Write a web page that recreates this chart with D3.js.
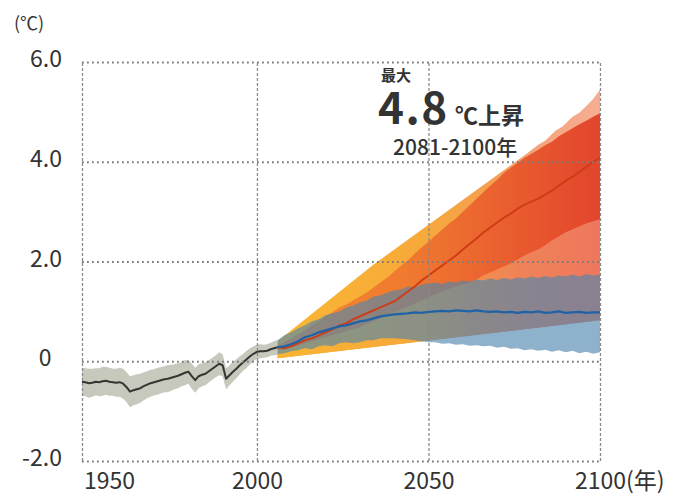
<!DOCTYPE html>
<html><head><meta charset="utf-8">
<script src="https://cdn.jsdelivr.net/npm/d3@7"></script>
<style>
html,body{margin:0;padding:0;background:#fff;}
svg{display:block;}
text{font-family:"Noto Sans CJK JP","Noto Sans",sans-serif;fill:#333;}
</style></head><body>
<svg id="chart" width="682" height="498"></svg>
<script>
// ---- observed record (annual) ----
const histYears = [1949,1950,1951,1952,1953,1954,1955,1956,1957,1958,1959,1960,1961,1962,1963,1964,1965,1966,1967,1968,1969,1970,1971,1972,1973,1974,1975,1976,1977,1978,1979,1980,1981,1982,1983,1984,1985,1986,1987,1988,1989,1990,1991,1992,1993,1994,1995,1996,1997,1998,1999,2000,2001,2002,2003,2004,2005,2006];
const histMean = [-0.41,-0.42,-0.44,-0.43,-0.41,-0.42,-0.40,-0.39,-0.41,-0.42,-0.43,-0.42,-0.45,-0.52,-0.61,-0.58,-0.56,-0.54,-0.50,-0.47,-0.44,-0.42,-0.40,-0.38,-0.36,-0.35,-0.33,-0.31,-0.29,-0.26,-0.23,-0.21,-0.30,-0.38,-0.30,-0.27,-0.25,-0.20,-0.15,-0.10,-0.05,-0.08,-0.35,-0.28,-0.21,-0.15,-0.08,-0.02,0.04,0.10,0.15,0.19,0.20,0.20,0.21,0.24,0.26,0.28];
const histSpread = [0.28,0.28,0.29,0.28,0.27,0.28,0.29,0.28,0.28,0.27,0.28,0.29,0.30,0.30,0.31,0.30,0.30,0.29,0.28,0.27,0.27,0.26,0.27,0.26,0.26,0.27,0.26,0.25,0.25,0.24,0.25,0.24,0.25,0.25,0.24,0.23,0.23,0.22,0.22,0.22,0.23,0.22,0.21,0.20,0.20,0.19,0.18,0.17,0.17,0.16,0.15,0.14,0.14,0.13,0.13,0.13,0.14,0.15];

// ---- projections (every 2 years) ----
const projYears = [2006,2008,2010,2012,2014,2016,2018,2020,2022,2024,2026,2028,2030,2032,2034,2036,2038,2040,2042,2044,2046,2048,2050,2052,2054,2056,2058,2060,2062,2064,2066,2068,2070,2072,2074,2076,2078,2080,2082,2084,2086,2088,2090,2092,2094,2096,2098,2100];

// high-emission scenario: mean and likely range
const highMean = [0.28,0.26,0.30,0.36,0.42,0.46,0.52,0.58,0.64,0.72,0.76,0.84,0.90,0.96,1.02,1.08,1.14,1.20,1.30,1.40,1.50,1.62,1.72,1.82,1.92,2.02,2.12,2.24,2.35,2.46,2.58,2.68,2.78,2.88,2.96,3.06,3.14,3.20,3.26,3.34,3.42,3.52,3.62,3.70,3.80,3.90,4.00,4.08];
const highTop = [0.32,0.38,0.46,0.54,0.62,0.72,0.80,0.90,0.98,1.08,1.14,1.22,1.30,1.38,1.48,1.58,1.68,1.80,1.92,2.02,2.16,2.28,2.40,2.52,2.64,2.76,2.86,3.00,3.13,3.26,3.39,3.52,3.64,3.78,3.88,3.98,4.08,4.16,4.24,4.33,4.40,4.51,4.59,4.67,4.75,4.82,4.90,4.97];
const highBottom = [0.22,0.24,0.28,0.32,0.36,0.40,0.44,0.48,0.52,0.56,0.60,0.64,0.68,0.74,0.80,0.86,0.92,0.98,1.04,1.10,1.16,1.22,1.28,1.34,1.40,1.45,1.50,1.54,1.58,1.64,1.72,1.78,1.84,1.90,1.96,2.04,2.12,2.18,2.24,2.32,2.42,2.50,2.58,2.64,2.70,2.76,2.80,2.84];

// full spread across scenarios (outer envelope)
const envTopYears = [2006,2034,2079,2082,2084,2087,2089,2092,2094,2096,2098,2100];
const envTop = [0.40,1.94,4.18,4.34,4.42,4.62,4.70,4.90,4.98,5.12,5.26,5.45];
const envBottomYears = [2006,2100];
const envBottom = [0.06,0.82];

// low-emission scenario: mean and likely range
const lowMean = [0.28,0.30,0.34,0.40,0.48,0.52,0.58,0.62,0.66,0.70,0.72,0.76,0.80,0.82,0.86,0.90,0.92,0.94,0.95,0.96,0.98,0.97,0.99,1.00,1.01,1.00,1.02,1.01,1.00,1.02,1.00,0.99,1.00,0.98,0.99,0.97,0.99,0.98,1.00,0.97,0.98,1.00,0.97,0.98,0.99,0.97,0.98,0.98];
const lowTop = [0.42,0.52,0.58,0.66,0.72,0.80,0.84,0.92,0.96,1.00,1.08,1.12,1.18,1.22,1.30,1.32,1.38,1.42,1.44,1.50,1.48,1.54,1.56,1.58,1.55,1.60,1.58,1.62,1.60,1.64,1.62,1.66,1.63,1.67,1.64,1.68,1.66,1.70,1.67,1.71,1.68,1.72,1.70,1.74,1.70,1.75,1.72,1.74];
const lowBottom = [0.14,0.16,0.20,0.22,0.26,0.24,0.30,0.32,0.30,0.36,0.38,0.36,0.38,0.42,0.42,0.46,0.46,0.46,0.45,0.44,0.42,0.40,0.38,0.38,0.35,0.36,0.33,0.34,0.31,0.32,0.30,0.31,0.27,0.29,0.25,0.26,0.22,0.24,0.21,0.23,0.19,0.22,0.18,0.21,0.16,0.19,0.15,0.18];

// axis ticks
const yTicks = [-2, 0, 2, 4, 6];
const xLabelTicks = [1950, 2000, 2050, 2100];
const xGridTicks = [2000, 2050, 2100];

const svg = d3.select("#chart");
const x = d3.scaleLinear().domain([1949, 2100]).range([82, 600]);
const y = d3.scaleLinear().domain([-2, 6]).range([461, 62]);

const defs = svg.append("defs");
function grad(id, stops) {
  const g = defs.append("linearGradient").attr("id", id)
    .attr("gradientUnits", "userSpaceOnUse")
    .attr("x1", x(2006)).attr("x2", x(2100)).attr("y1", 0).attr("y2", 0);
  stops.forEach(([o, c]) => g.append("stop").attr("offset", o).attr("stop-color", c));
}
grad("gEnvTop", [[0, "#f9b733"], [0.45, "#f7a93a"], [0.65, "#f4a050"], [0.8, "#f3a47c"], [1, "#f6ae93"]]);
grad("gEnvLow", [[0, "#f9b533"], [0.45, "#f6a63a"], [0.6, "#f2904a"], [0.75, "#ef8358"], [1, "#ee775d"]]);
grad("gHigh", [[0, "#f28a30"], [0.4, "#f07a2f"], [0.7, "#ea5f2f"], [1, "#e2452c"]]);

const pts = (yrs, vals) => yrs.map((yr, i) => [x(yr), y(vals[i])]);
const polygon = (top, bottom) => d3.line()(top.concat(bottom.slice().reverse())) + "Z";

// observed band
svg.append("path")
  .attr("d", d3.area().x((d, i) => x(histYears[i])).y0((d, i) => y(histMean[i] - histSpread[i])).y1((d, i) => y(histMean[i] + histSpread[i]))(histYears))
  .attr("fill", "#c6c9bc");

// outer envelope
svg.append("path")
  .attr("d", polygon(pts(envTopYears, envTop), pts(envBottomYears, envBottom)))
  .attr("fill", "url(#gEnvTop)");
svg.append("path")
  .attr("d", polygon(pts(projYears, highBottom), pts(envBottomYears, envBottom)))
  .attr("fill", "url(#gEnvLow)");

// high scenario range
const bandArea = (lo, hi) => d3.area().x((d, i) => x(projYears[i])).y0((d, i) => y(lo[i])).y1((d, i) => y(hi[i]))(projYears);
svg.append("path").attr("d", bandArea(highBottom, highTop)).attr("fill", "url(#gHigh)");

// low scenario range (translucent, so the warmer bands tint it grey)
svg.append("path").attr("d", bandArea(lowBottom, lowTop))
  .attr("fill", "rgb(77,133,174)").attr("fill-opacity", 0.63);

// mean lines
const meanLine = (yrs, vals) => d3.line().x((d, i) => x(yrs[i])).y((d, i) => y(vals[i]))(yrs);
svg.append("path").attr("d", meanLine(histYears, histMean))
  .attr("fill", "none").attr("stroke", "#363532").attr("stroke-width", 2).attr("stroke-linejoin", "round");
svg.append("path").attr("d", meanLine(projYears, highMean))
  .attr("fill", "none").attr("stroke", "#cf3b17").attr("stroke-width", 1.9).attr("stroke-linejoin", "round");
svg.append("path").attr("d", meanLine(projYears, lowMean))
  .attr("fill", "none").attr("stroke", "#1f62a6").attr("stroke-width", 2.2).attr("stroke-linejoin", "round");

// grid: dotted horizontals, dashed verticals
const hGrid = svg.append("g").attr("transform", `translate(${x(1949)},0)`)
  .call(d3.axisLeft(y).tickValues(yTicks).tickSize(-(x(2100) - x(1949))).tickFormat(""));
hGrid.select(".domain").remove();
hGrid.selectAll("line").attr("stroke", "#7d7d7d").attr("stroke-width", 1.8).attr("stroke-dasharray", "1.8,3.2");

const vGrid = svg.append("g").attr("transform", `translate(0,${y(-2)})`)
  .call(d3.axisBottom(x).tickValues([1949].concat(xGridTicks)).tickSize(-(y(-2) - y(6))).tickFormat(""));
vGrid.select(".domain").remove();
vGrid.selectAll("line").attr("stroke", "#8a8a8a").attr("stroke-width", 1.3).attr("stroke-dasharray", "3,2");

// y labels
const yAxis = svg.append("g").attr("transform", "translate(62,0)")
  .call(d3.axisLeft(y).tickValues(yTicks).tickSize(0).tickPadding(0)
    .tickFormat(v => v === 0 ? "0" : v.toFixed(1)));
yAxis.select(".domain").remove();
yAxis.selectAll("text")
  .attr("font-size", 23).attr("fill", "#3a3a3a")
  .attr("dy", "0.2em")
  .attr("font-family", null)
  .each(function (v) {
    if (v === 0) d3.select(this).attr("text-anchor", "middle").attr("x", -17);
  });

// x labels
const xAxis = svg.append("g").attr("transform", "translate(0,489)")
  .call(d3.axisBottom(x).tickValues(xLabelTicks).tickSize(0).tickPadding(0).tickFormat(d3.format("d")));
xAxis.select(".domain").remove();
xAxis.selectAll("text")
  .attr("font-size", 23).attr("fill", "#3a3a3a").attr("dy", 0).attr("font-family", null)
  .each(function (v) {
    const t = d3.select(this);
    if (v === 1950) t.attr("text-anchor", "start").attr("x", -2);
    if (v === 2100) {
      const w = this.getComputedTextLength();
      t.attr("text-anchor", "start").attr("x", -w / 2).text("2100(年)");
    }
  });

// unit label
svg.append("text").attr("x", 14).attr("y", 30).attr("font-size", 18).attr("fill", "#3a3a3a").text("(℃)");

// annotation
svg.append("text").attr("x", 381).attr("y", 81).attr("font-size", 15).attr("font-weight", 700).text("最大");
svg.append("text").attr("x", 378).attr("y", 124).attr("font-size", 44).attr("font-weight", 700)
  .attr("letter-spacing", 1.5).text("4.8");
svg.append("text").attr("x", 455).attr("y", 124).attr("font-size", 23).attr("font-weight", 700).text("℃上昇");
svg.append("text").attr("x", 393).attr("y", 155).attr("font-size", 21).attr("font-weight", 500).text("2081-2100年");
</script>
</body></html>
